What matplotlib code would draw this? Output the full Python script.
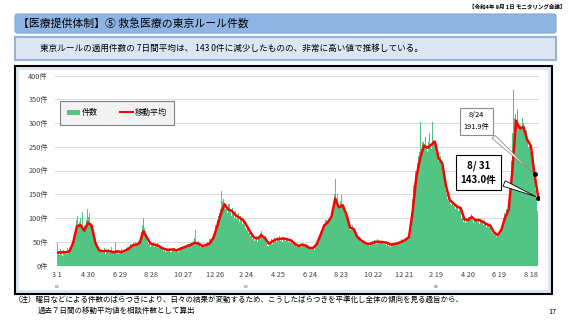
import numpy as np
import pandas as pd
import matplotlib
matplotlib.use('Agg')
import matplotlib.pyplot as plt
import matplotlib.dates as mdates
from matplotlib.patches import Rectangle, FancyBboxPatch, Patch
from matplotlib.lines import Line2D

plt.rcParams['font.family'] = ['Noto Sans CJK JP', 'DejaVu Sans']

# counts, one value per 2 days from 2020-03-01 (each row = 28 days)
counts = [
    48, 30, 22, 35, 28, 20, 33, 26, 30, 24, 36, 28, 32, 38,
    40, 52, 60, 75, 95, 105, 88, 92, 100, 82, 113, 70, 85, 78,
    95, 119, 102, 110, 90, 80, 75, 60, 50, 44, 38, 35, 30, 28,
    33, 27, 30, 36, 25, 31, 28, 34, 26, 30, 38, 27, 29, 50,
    28, 32, 25, 31, 27, 35, 30, 26, 33, 29, 36, 38, 40, 34,
    45, 38, 48, 42, 50, 46, 44, 52, 48, 60, 70, 85, 99, 80,
    72, 60, 50, 45, 52, 40, 47, 43, 38, 46, 41, 48, 36, 44,
    40, 34, 38, 31, 36, 29, 35, 32, 30, 37, 28, 34, 31, 36,
    30, 35, 33, 28, 36, 40, 34, 42, 38, 37, 44, 40, 46, 39,
    42, 48, 45, 52, 58, 75, 50, 46, 52, 44, 40, 46, 38, 44,
    40, 46, 44, 50, 48, 55, 52, 60, 66, 72, 85, 80, 95, 105,
    110, 120, 157, 135, 140, 128, 120, 125, 110, 130, 118, 105, 122, 112,
    100, 115, 98, 105, 110, 92, 104, 95, 88, 100, 85, 80, 74, 78,
    68, 62, 70, 55, 60, 52, 58, 62, 50, 57, 60, 68, 72, 62,
    58, 55, 62, 48, 42, 47, 50, 55, 45, 52, 58, 54, 50, 60,
    55, 62, 52, 58, 50, 60, 56, 52, 58, 50, 55, 48, 54, 46,
    50, 44, 48, 40, 42, 38, 44, 46, 40, 48, 42, 45, 38, 44,
    36, 40, 34, 38, 35, 40, 32, 38, 44, 50, 48, 58, 65, 72,
    80, 88, 85, 95, 92, 90, 100, 105, 110, 118, 130, 150, 183, 140,
    150, 125, 120, 135, 148, 130, 120, 110, 105, 100, 88, 80, 75, 82,
    85, 78, 70, 75, 62, 58, 55, 60, 50, 55, 48, 52, 45, 50,
    44, 48, 42, 50, 46, 52, 48, 54, 50, 46, 55, 48, 52, 50,
    48, 52, 46, 50, 44, 48, 42, 46, 40, 45, 48, 43, 47, 44,
    46, 50, 45, 52, 48, 55, 52, 50, 58, 55, 60, 58, 65, 62,
    80, 140, 170, 175, 200, 190, 215, 230, 240, 303, 245, 260, 255, 270,
    250, 240, 260, 280, 250, 245, 302, 265, 258, 250, 240, 235, 220, 225,
    230, 210, 190, 175, 160, 150, 140, 135, 145, 130, 128, 135, 125, 130,
    118, 130, 125, 115, 122, 118, 100, 92, 98, 90, 100, 94, 102, 96,
    100, 108, 95, 90, 98, 94, 100, 92, 96, 88, 94, 90, 86, 95,
    88, 82, 90, 84, 80, 86, 72, 68, 74, 65, 70, 60, 66, 62,
    72, 78, 90, 100, 110, 105, 120, 115, 130, 150, 175, 220, 280, 369,
    310, 320, 300, 330, 285, 295, 290, 310, 300, 280, 270, 285, 260, 250,
    255, 240, 230, 210, 190, 180, 160, 140, 115,
]

# 7-day moving average, weekly from 2020-03-04 to 2022-08-31
ma = [
    27, 28, 28, 30, 48, 82, 85, 73, 90, 84,
    48, 32, 30, 31, 30, 28, 30, 28, 31, 35,
    42, 44, 47, 72, 58, 46, 44, 42, 37, 34,
    33, 34, 32, 35, 38, 41, 44, 48, 46, 41,
    43, 47, 58, 82, 108, 129, 118, 115, 106, 101,
    96, 84, 70, 59, 57, 64, 57, 46, 51, 55,
    56, 57, 55, 53, 46, 41, 44, 42, 37, 37,
    45, 64, 84, 91, 103, 141, 122, 127, 108, 80,
    77, 60, 53, 48, 45, 47, 50, 50, 49, 48,
    44, 45, 47, 50, 54, 60, 115, 187, 225, 252,
    248, 254, 261, 226, 215, 168, 138, 131, 124, 121,
    97, 96, 102, 95, 96, 92, 87, 84, 70, 64,
    75, 100, 118, 200, 305, 288, 292, 265, 252, 191.9,
    143.0,
]

bar_dates = pd.date_range('2020-03-01', periods=len(counts), freq='2D')
ma_dates = pd.date_range('2020-03-04', periods=len(ma), freq='7D')
tick_dates = pd.date_range('2020-03-01', '2022-08-31', freq='60D')
tick_labels = [f'{d.month} {d.day}' for d in tick_dates]
era_dates = ['2020-03-01', '2021-02-24', '2022-02-19']
era_labels = ['R2', 'R3', 'R4']
yticks = [0, 50, 100, 150, 200, 250, 300, 350, 400]

W, H = 569, 320
def fx(x):
    return x / W
def fy(y):
    return 1 - y / H

fig = plt.figure(figsize=(W / 100, H / 100), dpi=100)

# header
fig.text(fx(565), fy(6), '【令和4年 9月 1日 モニタリング会議】', ha='right', va='center',
         fontsize=4, fontweight='bold')
fig.patches.append(FancyBboxPatch((fx(15), fy(33)), fx(556) - fx(15), 19 / H,
                                  boxstyle='round,pad=0,rounding_size=0.006',
                                  transform=fig.transFigure, fc='#8DB4E2', ec='#7FA6D6',
                                  lw=0.8, zorder=-5))
fig.text(fx(18), fy(23.5), '【医療提供体制】⑤ 救急医療の東京ルール件数', ha='left', va='center',
         fontsize=7.8)
fig.patches.append(Rectangle((fx(15), fy(60)), fx(556) - fx(15), 23 / H,
                             transform=fig.transFigure, fc='#DCE6F2', ec='#95B3D7',
                             lw=1.5, zorder=-5))
fig.text(fx(40), fy(48.5), '東京ルールの適用件数の 7日間平均は、 143 0件に減少したものの、非常に高い値で推移している。',
         ha='left', va='center', fontsize=6.2)

# chart frame
fig.patches.append(Rectangle((fx(15), fy(294)), fx(552) - fx(15), 228 / H,
                             transform=fig.transFigure, fc='#DCE6F2', ec='black',
                             lw=1.5, zorder=-5))
fig.patches.append(Rectangle((fx(19), fy(290)), fx(548) - fx(19), 220 / H,
                             transform=fig.transFigure, fc='white', ec='none', zorder=-4))

ax = fig.add_axes([fx(55), fy(265.5), fx(539) - fx(55), 190 / H])
ax.set_facecolor('none')
ax.bar(bar_dates, counts, width=2, align='edge', color='#52C483', lw=0, zorder=2)
ax.plot(ma_dates + pd.Timedelta(hours=12), ma, color='#FF0000', lw=1.8, zorder=3)

x0 = mdates.date2num(pd.Timestamp('2020-03-01'))
ax.set_xlim(x0 - 3, x0 + 915)
ax.set_ylim(0, 400)
ax.set_yticks(yticks)
ax.set_yticklabels([f'{v}件' for v in yticks], fontsize=5.3, color='#404040')
ax.set_xticks(tick_dates)
ax.set_xticklabels(tick_labels, fontsize=5.3, color='#404040')
ax.tick_params(length=0, pad=5)
ax.tick_params(axis='x', pad=4)
ax.grid(axis='y', color='#D9D9D9', lw=0.7, zorder=0)
ax.set_axisbelow(True)
for s in ax.spines.values():
    s.set_visible(False)

for d, lab in zip(era_dates, era_labels):
    ax.annotate(lab, xy=(mdates.date2num(pd.Timestamp(d)), 0), xytext=(0, -14),
                textcoords='offset points', ha='center', va='top', fontsize=2.8,
                color='#606060')

# legend
handles = [Patch(fc='#52C483', ec='none'), Line2D([], [], color='#FF0000', lw=1.5)]
leg = ax.legend(handles, ['件数', '移動平均'], ncol=2, loc='upper left',
                bbox_to_anchor=(fx(60), fy(101)), bbox_transform=fig.transFigure,
                fontsize=5.8, frameon=True, fancybox=False, borderpad=0.9,
                columnspacing=2.8, handlelength=1.6, handletextpad=0.2,
                borderaxespad=0)
leg.get_frame().set_facecolor('#F2F2F2')
leg.get_frame().set_edgecolor('#7F7F7F')
leg.get_frame().set_linewidth(0.8)
leg.get_frame().set_alpha(1)

# callouts
p24 = (mdates.date2num(pd.Timestamp('2022-08-24')) + 0.5, 191.9)
p31 = (mdates.date2num(pd.Timestamp('2022-08-31')) + 0.5, 143.0)
ax.plot([p24[0], p31[0]], [p24[1], p31[1]], 'o', color='black', ms=2.5, zorder=6)
ax.annotate('8/24\n191.9件', xy=p24, xytext=(x0 + 796, 304), textcoords='data',
            ha='center', va='center', fontsize=5.3, linespacing=1.6, zorder=5,
            bbox=dict(boxstyle='square,pad=0.5', fc='white', ec='#8C8C8C', lw=0.8),
            arrowprops=dict(arrowstyle='wedge,tail_width=0.25,shrink_factor=0.5',
                            fc='white', ec='#8C8C8C', lw=0.6, mutation_scale=12))
ax.annotate('8/ 31\n143.0件', xy=p31, xytext=(x0 + 800, 195), textcoords='data',
            ha='center', va='center', fontsize=7, fontweight='bold', linespacing=1.5,
            zorder=5,
            bbox=dict(boxstyle='square,pad=0.5', fc='white', ec='black', lw=0.8),
            arrowprops=dict(arrowstyle='wedge,tail_width=0.3,shrink_factor=0.5',
                            fc='white', ec='black', lw=0.6, mutation_scale=14))

# footer
fig.text(fx(14), fy(300), '（注）曜日などによる件数のばらつきにより、日々の結果が変動するため、こうしたばらつきを平準化し全体の傾向を見る趣旨から、',
         ha='left', va='center', fontsize=5.4)
fig.text(fx(38), fy(311), '過去７日間の移動平均値を相談件数として算出',
         ha='left', va='center', fontsize=5.4)
fig.text(fx(556), fy(312), '17', ha='right', va='center', fontsize=5.2)

fig.savefig('out.png', dpi=100)
